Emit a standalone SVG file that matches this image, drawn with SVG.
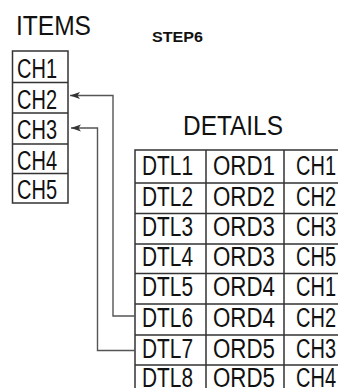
<svg xmlns="http://www.w3.org/2000/svg" width="338" height="388" viewBox="0 0 338 388">
<style>
text{font-family:"Liberation Sans",Arial,sans-serif;font-size:27px;fill:#111}
.t{fill:#fff;stroke:#333;stroke-width:1.5}
.ln{fill:none;stroke:#333;stroke-width:1.5}
.c{fill:none;stroke:#555;stroke-width:1.4}
</style>
<defs>
<marker id="ah" markerUnits="userSpaceOnUse" markerWidth="14" markerHeight="10" viewBox="-11 -5 12 10" refX="0" refY="0" orient="auto">
<path d="M0,0 L-10,-3.5 L-7.5,0 L-10,3.5 Z" fill="#333"/>
</marker>
</defs>
<rect width="338" height="388" fill="#fff"/>
<text x="16" y="35" textLength="75" lengthAdjust="spacingAndGlyphs">ITEMS</text>
<text x="152" y="42" style="font-size:14px;font-weight:bold" textLength="51" lengthAdjust="spacingAndGlyphs">STEP6</text>
<text x="183" y="135" textLength="100" lengthAdjust="spacingAndGlyphs">DETAILS</text>
<g id="items">
<rect class="t" x="12.5" y="51" width="55.5" height="152"/>
<path class="ln" d="M12.5,82.5H68M12.5,113H68M12.5,144H68M12.5,173.5H68"/>
<text x="17" y="78" textLength="40" lengthAdjust="spacingAndGlyphs">CH1</text>
<text x="17" y="108.5" textLength="40" lengthAdjust="spacingAndGlyphs">CH2</text>
<text x="17" y="139" textLength="40" lengthAdjust="spacingAndGlyphs">CH3</text>
<text x="17" y="169.5" textLength="40" lengthAdjust="spacingAndGlyphs">CH4</text>
<text x="17" y="199" textLength="40" lengthAdjust="spacingAndGlyphs">CH5</text>
</g>
<g id="details">
<rect class="t" x="135" y="150" width="210" height="250"/>
<path class="ln" d="M135,183H345M135,213.5H345M135,244H345M135,273.5H345M135,304H345M135,335H345M135,365H345M206,150V400M284,150V400"/>
<g>
<text x="142" y="175" textLength="51" lengthAdjust="spacingAndGlyphs">DTL1</text>
<text x="213" y="175" textLength="62" lengthAdjust="spacingAndGlyphs">ORD1</text>
<text x="296" y="175" textLength="40" lengthAdjust="spacingAndGlyphs">CH1</text>
<text x="142" y="205.5" textLength="51" lengthAdjust="spacingAndGlyphs">DTL2</text>
<text x="213" y="205.5" textLength="62" lengthAdjust="spacingAndGlyphs">ORD2</text>
<text x="296" y="205.5" textLength="40" lengthAdjust="spacingAndGlyphs">CH2</text>
<text x="142" y="236" textLength="51" lengthAdjust="spacingAndGlyphs">DTL3</text>
<text x="213" y="236" textLength="62" lengthAdjust="spacingAndGlyphs">ORD3</text>
<text x="296" y="236" textLength="40" lengthAdjust="spacingAndGlyphs">CH3</text>
<text x="142" y="266" textLength="51" lengthAdjust="spacingAndGlyphs">DTL4</text>
<text x="213" y="266" textLength="62" lengthAdjust="spacingAndGlyphs">ORD3</text>
<text x="296" y="266" textLength="40" lengthAdjust="spacingAndGlyphs">CH5</text>
<text x="142" y="296" textLength="51" lengthAdjust="spacingAndGlyphs">DTL5</text>
<text x="213" y="296" textLength="62" lengthAdjust="spacingAndGlyphs">ORD4</text>
<text x="296" y="296" textLength="40" lengthAdjust="spacingAndGlyphs">CH1</text>
<text x="142" y="327" textLength="51" lengthAdjust="spacingAndGlyphs">DTL6</text>
<text x="213" y="327" textLength="62" lengthAdjust="spacingAndGlyphs">ORD4</text>
<text x="296" y="327" textLength="40" lengthAdjust="spacingAndGlyphs">CH2</text>
<text x="142" y="357.5" textLength="51" lengthAdjust="spacingAndGlyphs">DTL7</text>
<text x="213" y="357.5" textLength="62" lengthAdjust="spacingAndGlyphs">ORD5</text>
<text x="296" y="357.5" textLength="40" lengthAdjust="spacingAndGlyphs">CH3</text>
<text x="142" y="387" textLength="51" lengthAdjust="spacingAndGlyphs">DTL8</text>
<text x="213" y="387" textLength="62" lengthAdjust="spacingAndGlyphs">ORD5</text>
<text x="296" y="387" textLength="40" lengthAdjust="spacingAndGlyphs">CH4</text>
</g>
</g>
<g id="connectors">
<path class="c" d="M135,316H113V95.5H70" marker-end="url(#ah)"/>
<path class="c" d="M135,350.5H97.5V128H71" marker-end="url(#ah)"/>
</g>
</svg>
